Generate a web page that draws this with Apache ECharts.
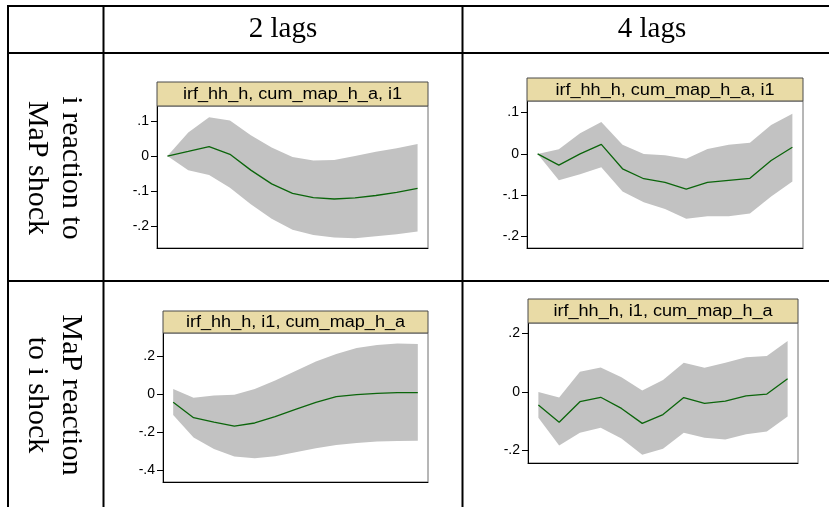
<!DOCTYPE html>
<html>
<head>
<meta charset="utf-8">
<title>Impulse responses</title>
<script src="https://cdn.jsdelivr.net/npm/echarts@6/dist/echarts.min.js"></script>
<style>
  html, body { margin: 0; padding: 0; background: #fff; }
  #chart { width: 829px; height: 507px; }
</style>
</head>
<body>
<div id="chart"></div>
<script>
// Forecast horizon (steps)
const steps = ['0', '1', '2', '3', '4', '5', '6', '7', '8', '9', '10', '11', '12'];

// Column / row headings
const colHeads = ['2 lags', '4 lags'];
const rowHeads = ['i reaction to\nMaP shock', 'MaP reaction\nto i shock'];
const panelTitles = [
  'irf_hh_h, cum_map_h_a, i1',
  'irf_hh_h, cum_map_h_a, i1',
  'irf_hh_h, i1, cum_map_h_a',
  'irf_hh_h, i1, cum_map_h_a'
];

// 2 lags: i reaction to MaP shock
const irf1 = [0, 0.013, 0.027, 0.005, -0.040, -0.079, -0.106, -0.118, -0.122, -0.119, -0.112, -0.103, -0.092];
const lo1  = [0, -0.040, -0.054, -0.090, -0.137, -0.178, -0.209, -0.224, -0.231, -0.233, -0.228, -0.222, -0.214];
const hi1  = [0, 0.067, 0.110, 0.101, 0.059, 0.024, -0.003, -0.013, -0.011, 0.000, 0.012, 0.022, 0.034];

// 4 lags: i reaction to MaP shock
const irf2 = [0, -0.027, 0.000, 0.023, -0.036, -0.060, -0.069, -0.085, -0.069, -0.064, -0.059, -0.016, 0.016];
const lo2  = [0, -0.064, -0.049, -0.032, -0.091, -0.117, -0.133, -0.157, -0.151, -0.151, -0.144, -0.103, -0.067];
const hi2  = [0, 0.011, 0.050, 0.077, 0.022, 0.000, -0.003, -0.012, 0.012, 0.022, 0.027, 0.070, 0.097];

// 2 lags: MaP reaction to i shock
const irf3 = [-0.042, -0.123, -0.147, -0.167, -0.151, -0.118, -0.079, -0.042, -0.012, -0.002, 0.005, 0.009, 0.009];
const lo3  = [-0.109, -0.228, -0.288, -0.328, -0.337, -0.326, -0.305, -0.284, -0.267, -0.256, -0.249, -0.246, -0.244];
const hi3  = [0.028, -0.018, -0.007, -0.002, 0.028, 0.072, 0.123, 0.172, 0.212, 0.244, 0.260, 0.267, 0.265];

// 4 lags: MaP reaction to i shock
const irf4 = [-0.044, -0.103, -0.033, -0.018, -0.056, -0.107, -0.077, -0.019, -0.039, -0.031, -0.013, -0.007, 0.045];
const lo4  = [-0.088, -0.183, -0.139, -0.122, -0.159, -0.214, -0.194, -0.139, -0.156, -0.162, -0.144, -0.135, -0.084];
const hi4  = [0.000, -0.019, 0.069, 0.084, 0.050, 0.005, 0.041, 0.100, 0.083, 0.100, 0.119, 0.123, 0.174];

// Y tick values and their labels
const ticksA = [0.1, 0, -0.1, -0.2];
const labelsA = ['.1', '0', '-.1', '-.2'];
const ticks3 = [0.2, 0, -0.2, -0.4];
const labels3 = ['.2', '0', '-.2', '-.4'];
const ticks4 = [0.2, 0, -0.2];
const labels4 = ['.2', '0', '-.2'];

// Panel layout: grid box, y range, title box
const panels = [
  { irf: irf1, lo: lo1, hi: hi1, ticks: ticksA, labels: labelsA,
    grid: { left: 157, top: 106, width: 271, height: 142 }, ymin: -0.261, ymax: 0.142,
    box: { x: 157, y: 82, w: 271, h: 24 } },
  { irf: irf2, lo: lo2, hi: hi2, ticks: ticksA, labels: labelsA,
    grid: { left: 527, top: 101, width: 276, height: 147 }, ymin: -0.2276, ymax: 0.128,
    box: { x: 527, y: 78, w: 276, h: 23 } },
  { irf: irf3, lo: lo3, hi: hi3, ticks: ticks3, labels: labels3,
    grid: { left: 163, top: 333, width: 265, height: 149 }, ymin: -0.4616, ymax: 0.3226,
    box: { x: 163, y: 311, w: 265, h: 22 } },
  { irf: irf4, lo: lo4, hi: hi4, ticks: ticks4, labels: labels4,
    grid: { left: 528, top: 323, width: 270, height: 140 }, ymin: -0.2423, ymax: 0.2355,
    box: { x: 528, y: 299, w: 270, h: 24 } }
];

const SANS = '"Liberation Sans", Arial, sans-serif';
const SERIF = '"Liberation Serif", "Times New Roman", serif';
const BAND = '#c2c2c2';
const LINE = '#0b650b';
const TAN = '#e9dba6';

const grids = [], xAxes = [], yAxes = [], series = [], graphics = [];

panels.forEach((p, i) => {
  grids.push(Object.assign({ show: true, borderColor: '#6e6e6e', borderWidth: 1,
    backgroundColor: '#fff', containLabel: false }, p.grid));
  xAxes.push({
    type: 'category', gridIndex: i, data: steps, boundaryGap: true,
    axisLine: { show: true, onZero: false, lineStyle: { color: '#000', width: 1 } },
    axisTick: { show: false }, axisLabel: { show: false }, splitLine: { show: false }
  });
  yAxes.push({
    type: 'value', gridIndex: i, min: p.ymin, max: p.ymax,
    axisLine: { show: true, onZero: false, lineStyle: { color: '#000', width: 1 } },
    axisTick: { show: true, length: 6, inside: false, customValues: p.ticks,
      lineStyle: { color: '#000', width: 1 } },
    axisLabel: {
      show: true, customValues: p.ticks, margin: 8, color: '#000',
      fontSize: 14, fontFamily: SANS,
      formatter: v => {
        const k = p.ticks.findIndex(t => Math.abs(t - v) < 1e-6);
        return k >= 0 ? p.labels[k] : '';
      }
    },
    splitLine: { show: false }
  });

  const stackId = 'band' + i;
  series.push({
    type: 'line', xAxisIndex: i, yAxisIndex: i, stack: stackId, stackStrategy: 'all',
    data: p.lo, symbol: 'none', silent: true,
    lineStyle: { width: 0, opacity: 0 }
  });
  series.push({
    type: 'line', xAxisIndex: i, yAxisIndex: i, stack: stackId, stackStrategy: 'all',
    data: p.hi.map((h, k) => +(h - p.lo[k]).toFixed(4)), symbol: 'none', silent: true,
    lineStyle: { width: 0, opacity: 0 },
    areaStyle: { color: BAND, opacity: 1 }
  });
  series.push({
    type: 'line', xAxisIndex: i, yAxisIndex: i, data: p.irf, symbol: 'none',
    lineStyle: { color: LINE, width: 1.3 }, z: 5
  });

  // title strip above each plot
  graphics.push({
    type: 'rect', shape: { x: p.box.x, y: p.box.y, width: p.box.w, height: p.box.h },
    style: { fill: TAN, stroke: '#4a4a4a', lineWidth: 1 }, z: 10
  });
  graphics.push({
    type: 'text', x: p.box.x + p.box.w / 2, y: p.box.y + p.box.h / 2 + 1, scaleX: 1.13,
    style: { text: panelTitles[i], fill: '#000', font: '16px ' + SANS,
      align: 'center', verticalAlign: 'middle',
      textAlign: 'center', textVerticalAlign: 'middle' }, z: 11
  });
});

// table rules
const rules = [
  [7, 6, 829, 6], [7, 53, 829, 53], [7, 281, 829, 281],
  [8, 5, 8, 507], [103.5, 5, 103.5, 507], [462.5, 5, 462.5, 507]
];
rules.forEach(r => graphics.push({
  type: 'line', shape: { x1: r[0], y1: r[1], x2: r[2], y2: r[3] },
  style: { stroke: '#000', lineWidth: 2 }, z: 20
}));

// column headings
[[283, 29], [652, 29]].forEach((pos, i) => graphics.push({
  type: 'text', x: pos[0], y: pos[1],
  style: { text: colHeads[i], fill: '#000', font: '29px ' + SERIF,
    align: 'center', verticalAlign: 'middle', textAlign: 'center', textVerticalAlign: 'middle' }, z: 20
}));

// row headings, reading top to bottom
[[54, 168], [54, 395]].forEach((pos, i) => graphics.push({
  type: 'text', x: pos[0], y: pos[1], rotation: -Math.PI / 2,
  style: { text: rowHeads[i], fill: '#000', font: '30px ' + SERIF, lineHeight: 34,
    align: 'center', verticalAlign: 'middle', textAlign: 'center', textVerticalAlign: 'middle' }, z: 20
}));

const chart = echarts.init(document.getElementById('chart'), null, { renderer: 'canvas' });
chart.setOption({
  animation: false,
  backgroundColor: '#fff',
  grid: grids,
  xAxis: xAxes,
  yAxis: yAxes,
  series: series,
  graphic: graphics
});
</script>
</body>
</html>
